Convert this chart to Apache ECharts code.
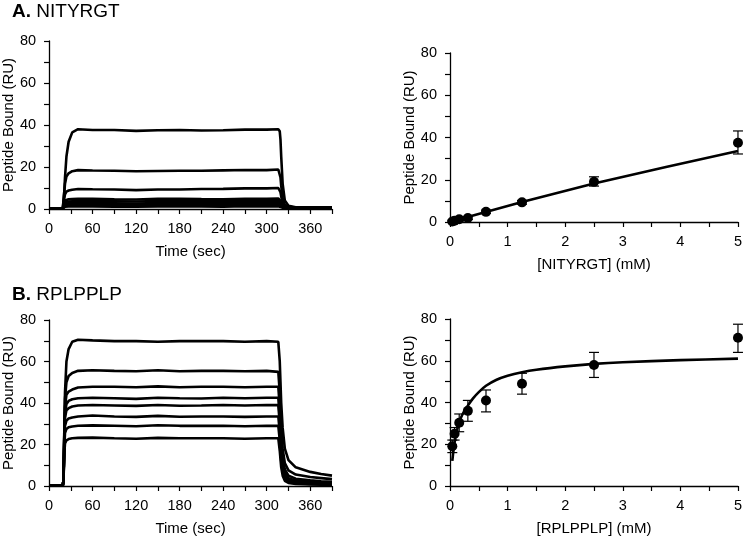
<!DOCTYPE html>
<html>
<head>
<meta charset="utf-8">
<script src="https://cdn.jsdelivr.net/npm/echarts@6/dist/echarts.min.js"></script>
<style>html,body{margin:0;padding:0;background:#fff;}#c{width:745px;height:537px;}</style>
</head>
<body>
<div id="c"></div>
<script>
// ---- Sensorgram time points (sec) ----
const times = [0,19,20,21,22,24,27,32,40,60,90,120,150,180,210,240,270,300,316,318,319,320,322,325,330,340,360,375,390];

// Panel A (NITYRGT) sensorgrams, RU
const a1 = [0.3,0.3,1,8,15,25,32,36.5,38,37.6,37.6,37.2,37.5,37.6,37.4,37.5,37.8,37.8,38,37,33,25,12,4,1.5,0.8,0.8,0.7,0.8];
const a2 = [0.3,0.3,1,8,12,15.5,17,18,18.5,18.3,18.2,18,18.1,18.2,18.2,18.4,18.6,18.5,18.8,18,15,11,5,2,1,0.7,0.7,0.7,0.7];
const a3 = [0.3,0.3,1,5,7,8.3,8.8,9.2,9.5,9.4,9.3,9,9.3,9.3,9.5,9.6,9.8,9.8,10,9.5,8,6,3,1.5,0.9,0.7,0.7,0.7,0.7];
const a4 = [0.3,0.3,1,3,4,4.4,4.6,4.7,4.8,4.8,4.6,4.5,4.8,4.9,4.7,4.6,4.8,4.8,5,4.6,4,3.2,1.8,1,0.7,0.6,0.6,0.6,0.6];
const a5 = [0.3,0.3,1,2.5,3.2,3.5,3.6,3.7,3.8,3.8,3.7,3.6,3.8,3.8,3.7,3.7,3.9,3.8,3.9,3.5,3,2.4,1.4,0.8,0.6,0.5,0.5,0.5,0.5];
const a6 = [0.3,0.3,1,2,2.4,2.6,2.7,2.8,2.8,2.8,2.7,2.6,2.8,2.9,2.7,2.7,2.9,2.8,2.9,2.6,2.2,1.8,1.1,0.7,0.5,0.5,0.5,0.5,0.5];
const a7 = [0.3,0.3,0.8,1.5,1.8,1.9,2,2,2,2,1.9,1.9,2,2.1,2,1.9,2.1,2,2.1,1.9,1.6,1.3,0.9,0.6,0.5,0.4,0.4,0.4,0.4];
const a8 = [0.3,0.3,0.6,1,1.1,1.2,1.2,1.2,1.2,1.2,1.1,1.1,1.2,1.3,1.2,1.1,1.3,1.2,1.3,1.1,1,0.8,0.6,0.5,0.4,0.4,0.4,0.4,0.4];

// Panel B (RPLPPLP) sensorgrams, RU
const b1 = [0.3,0.3,3,25,45,60,66,69.5,70.5,70.2,69.8,69.8,69.5,69.8,69.8,69.8,69.5,69.8,69.5,60,50,40,28,18,12.5,9,6.8,5.8,5];
const b2 = [0.3,0.3,3,25,42,50,53,54.5,55.5,55.8,55.5,55.3,55.8,55.3,55.5,55.5,55.3,55.5,55,45,36,28,18,11,7.5,5.5,4.3,3.8,3.3];
const b3 = [0.3,0.3,3,24,38,44,45.5,46.5,47.5,47.8,47.8,47.6,48,47.6,47.8,47.8,47.6,47.8,47.8,38,30,22,14,8,5,3.5,2.7,2.3,2];
const b4 = [0.3,0.3,3,23,35,39.5,41,41.8,42.3,42.5,42.3,42,42.5,42.3,42.2,42.5,42.3,42.5,42.5,33,26,19,11,6,3.8,2.6,2,1.7,1.5];
const b5 = [0.3,0.3,3,22,33,36.5,37.5,38.3,38.8,39,38.8,38.6,39,38.7,38.8,39,38.8,39,39,30,23,17,10,5,3,2,1.5,1.3,1.2];
const b6 = [0.3,0.3,3,20,29,31.5,32.5,33,33.5,34,33.5,33.3,33.8,33.4,33.5,33.5,33.3,33.5,33.5,26,20,14,8,4,2.5,1.6,1.2,1,1];
const b7 = [0.3,0.3,3,18,25.5,27.5,28.3,28.7,29,29.2,29,28.8,29.3,29,29,29,28.8,29,29,22,17,12,7,3.5,2,1.3,1,0.9,0.8];
const b8 = [0.3,0.3,3,15,20.5,22,22.6,23,23.2,23.3,23,22.8,23.2,23,23,23,22.8,23,23,17,13,9,5,2.5,1.5,1,0.7,0.6,0.5];

// Steady-state binding (mM concentrations)
const conc = [0.04,0.08,0.16,0.31,0.625,1.25,2.5,5];
const nityMean = [0.2,0.6,1.3,1.9,4.8,9.3,19,37.5];
const nityLow  = [0,0,0.6,1.2,4.0,8.4,17,32.2];
const nityHigh = [0.8,1.2,2.0,2.6,5.6,10.2,21.4,43.1];
const rplpMean = [19,25,30.3,36,41,49,58,71];
const rplpLow  = [16,22,26,31,35.5,44,52,64];
const rplpHigh = [22,28,34.5,41,46,54,64,77.5];

// Fit curves
const nityFitX = [0.04,1.25,2.5,3.75,5];
const nityFitY = [0.3,9.5,18.2,26,33.6];
const rplpFitX = [0.04,0.06,0.08,0.12,0.16,0.22,0.31,0.4,0.5,0.625,0.8,1,1.25,1.5,2,2.5,3,4,5];
const rplpFitY = [12,17,21,26.5,30.5,34.5,38.5,42,45,48,50.8,52.8,54.5,55.7,57.3,58.5,59.3,60.3,61];

// Tick labels
const timeTicks = [0,60,120,180,240,300,360];
const concTicks = [0,1,2,3,4,5];
const ruTicks = [0,20,40,60,80];

const FONT = '"Liberation Sans", Arial, sans-serif';
const chart = echarts.init(document.getElementById('c'), null, {renderer:'canvas'});

function pairs(xs, ys){ return xs.map((x,i)=>[x, ys[i]]); }

const grids = [
  {left:48, top:41, width:284, height:168},
  {left:450, top:53, width:290, height:169},
  {left:48, top:320, width:284, height:167},
  {left:450, top:319, width:290, height:169}
];

const axLine = {lineStyle:{color:'#000', width:1.3}};
const axTick = {show:true, inside:false, length:5, lineStyle:{color:'#000', width:1.2}};
const minor = {show:true, splitNumber:2, length:5, lineStyle:{color:'#000', width:1.2}};
const lab = {color:'#000', fontSize:14.5, fontFamily:FONT};
const nameStyle = {color:'#000', fontSize:15, fontFamily:FONT};

function timeAxis(gi){
  return {type:'value', gridIndex:gi, min:0, max:390, interval:60,
    axisLine:axLine, axisTick:axTick, minorTick:minor, splitLine:{show:false},
    axisLabel:Object.assign({margin:12, showMaxLabel:false,
      formatter:v=>timeTicks.indexOf(v)>=0?String(v):''}, lab),
    name:'Time (sec)', nameLocation:'middle', nameGap:35, nameTextStyle:nameStyle};
}
function concAxis(gi, name){
  return {type:'value', gridIndex:gi, min:0, max:5, interval:1,
    axisLine:axLine, axisTick:axTick, minorTick:minor, splitLine:{show:false},
    axisLabel:Object.assign({margin:12, formatter:v=>concTicks.indexOf(v)>=0?String(v):''}, lab),
    name:name, nameLocation:'middle', nameGap:35, nameTextStyle:nameStyle};
}
function ruAxis(gi){
  return {type:'value', gridIndex:gi, min:0, max:80, interval:20,
    axisLine:axLine, axisTick:axTick, minorTick:minor, splitLine:{show:false},
    axisLabel:Object.assign({margin:13, formatter:v=>ruTicks.indexOf(v)>=0?String(v):''}, lab),
    name:'Peptide Bound (RU)', nameLocation:'middle', nameGap:33, nameRotate:90, nameTextStyle:nameStyle};
}

const series = [];
function sensor(arr, idx){
  series.push({type:'line', xAxisIndex:idx, yAxisIndex:idx, data:pairs(times, arr),
    symbol:'none', lineStyle:{color:'#000', width:2.6}, z:2});
}
[a1,a2,a3,a4,a5,a6,a7,a8].forEach(a=>sensor(a,0));
[b1,b2,b3,b4,b5,b6,b7,b8].forEach(b=>sensor(b,2));

function errBars(idx, low, high){
  series.push({type:'custom', xAxisIndex:idx, yAxisIndex:idx,
    data: conc.map((c,i)=>[c, low[i], high[i]]),
    renderItem:function(params, api){
      const lo = api.coord([api.value(0), api.value(1)]);
      const hi = api.coord([api.value(0), api.value(2)]);
      const w = 5;
      const st = {stroke:'#000', lineWidth:1.2};
      return {type:'group', children:[
        {type:'line', shape:{x1:lo[0], y1:lo[1], x2:hi[0], y2:hi[1]}, style:st},
        {type:'line', shape:{x1:lo[0]-w, y1:lo[1], x2:lo[0]+w, y2:lo[1]}, style:st},
        {type:'line', shape:{x1:hi[0]-w, y1:hi[1], x2:hi[0]+w, y2:hi[1]}, style:st}
      ]};
    }, z:3});
}
errBars(1, nityLow, nityHigh);
errBars(3, rplpLow, rplpHigh);

series.push({type:'line', xAxisIndex:1, yAxisIndex:1, data:pairs(nityFitX, nityFitY),
  symbol:'none', smooth:false, lineStyle:{color:'#000', width:2.6}, z:2});
series.push({type:'line', xAxisIndex:3, yAxisIndex:3, data:pairs(rplpFitX, rplpFitY),
  symbol:'none', smooth:0.3, lineStyle:{color:'#000', width:2.6}, z:2});

series.push({type:'scatter', xAxisIndex:1, yAxisIndex:1, data:pairs(conc, nityMean),
  symbol:'circle', symbolSize:10, itemStyle:{color:'#000', opacity:1}, z:4});
series.push({type:'scatter', xAxisIndex:3, yAxisIndex:3, data:pairs(conc, rplpMean),
  symbol:'circle', symbolSize:10, itemStyle:{color:'#000', opacity:1}, z:4});

const option = {
  animation:false,
  backgroundColor:'#fff',
  title:[
    {text:'{b|A.} NITYRGT', left:7, top:-3, textStyle:{fontFamily:FONT, fontSize:19, fontWeight:'normal', color:'#000',
      rich:{b:{fontFamily:FONT, fontSize:19, fontWeight:'bold', color:'#000'}}}},
    {text:'{b|B.} RPLPPLP', left:7, top:280, textStyle:{fontFamily:FONT, fontSize:19, fontWeight:'normal', color:'#000',
      rich:{b:{fontFamily:FONT, fontSize:19, fontWeight:'bold', color:'#000'}}}}
  ],
  grid:grids,
  xAxis:[timeAxis(0), concAxis(1,'[NITYRGT] (mM)'), timeAxis(2), concAxis(3,'[RPLPPLP] (mM)')],
  yAxis:[ruAxis(0), ruAxis(1), ruAxis(2), ruAxis(3)],
  series:series
};
chart.setOption(option);
</script>
</body>
</html>
